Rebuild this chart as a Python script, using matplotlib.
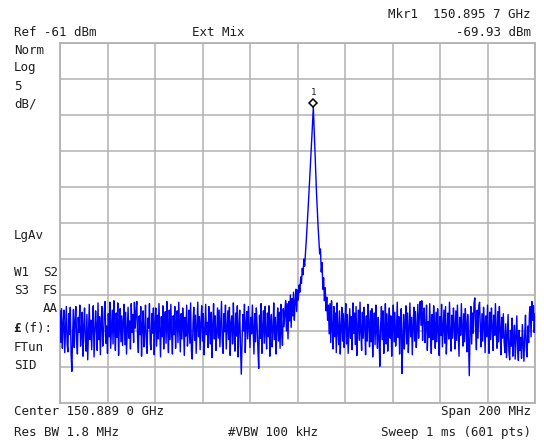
"""spectrum analyzer screen: single tone near 150.8957 GHz, ext mixer, 5 dB/div."""
import numpy as np
import matplotlib
matplotlib.use("Agg")
import matplotlib.pyplot as plt
from matplotlib.transforms import offset_copy

# instrument settings
CENTER_GHZ = 150.8890
SPAN_GHZ = 0.200
REF_DBM = -61.0
DB_PER_DIV = 5.0
N_DIV = 10
MKR_INDEX = 320

# trace, 601 pts, dBm
trace_dbm = [
    -98.2, -102.6, -97.9, -103.4, -100.0, -98.1, -104.0, -100.9, -97.6, -102.8, -103.9, -98.6, -101.5, -97.7, -104.3, -106.6, -101.2, -98.0, -103.3, -99.8,
    -97.6, -102.4, -104.2, -99.1, -101.2, -97.4, -103.1, -101.3, -98.4, -104.5, -100.4, -97.8, -102.3, -103.8, -98.7, -105.0, -101.0, -97.3, -102.2, -99.5,
    -103.6, -100.1, -97.5, -104.6, -101.5, -98.2, -100.5, -103.7, -97.1, -102.2, -99.0, -104.3, -100.0, -97.6, -103.1, -101.6, -98.3, -96.9, -102.7, -100.3,
    -104.1, -98.6, -101.8, -97.0, -103.4, -100.8, -98.1, -102.8, -96.8, -101.0, -103.7, -98.5, -101.9, -97.1, -104.4, -100.1, -97.9, -102.5, -98.9, -103.0,
    -99.8, -97.3, -102.9, -98.4, -104.2, -100.9, -97.7, -102.0, -99.6, -103.5, -97.2, -101.2, -98.7, -102.6, -97.0, -100.6, -98.4, -96.9, -101.9, -104.0,
    -98.9, -101.5, -97.6, -104.5, -100.2, -98.2, -103.2, -101.1, -97.4, -102.4, -104.1, -99.2, -100.6, -97.2, -102.8, -103.6, -98.6, -101.3, -97.8, -104.3,
    -100.0, -97.8, -103.1, -98.8, -102.1, -97.2, -100.9, -104.6, -99.0, -101.8, -97.5, -103.5, -99.9, -98.3, -102.7, -96.9, -100.8, -104.0, -98.1, -102.2,
    -97.3, -101.3, -104.2, -98.9, -101.5, -97.6, -103.4, -100.1, -98.2, -102.6, -97.0, -100.7, -103.9, -98.6, -102.1, -97.8, -100.2, -104.4, -99.1, -101.7,
    -97.4, -103.1, -100.9, -98.1, -102.7, -97.1, -103.8, -104.9, -100.0, -97.7, -102.3, -98.8, -104.1, -100.6, -97.0, -101.8, -99.0, -103.6, -99.9, -97.5,
    -102.4, -98.6, -104.3, -101.1, -97.3, -101.5, -99.8, -103.3, -97.6, -100.7, -102.8, -98.4, -104.7, -100.2, -97.2, -102.1, -98.9, -103.7, -101.2, -97.8,
    -102.0, -98.1, -103.2, -100.1, -96.9, -102.5, -104.1, -98.6, -101.1, -97.4, -103.5, -100.9, -98.2, -102.2, -97.7, -104.4, -99.9, -98.9, -102.8, -97.1,
    -101.2, -103.8, -98.5, -101.7, -97.5, -104.6, -100.6, -98.1, -103.1, -107.0, -102.4, -98.7, -101.0, -97.3, -104.0, -100.0, -98.3, -102.1, -97.6, -100.4,
    -103.3, -99.1, -101.4, -97.4, -100.9, -104.2, -98.6, -102.5, -97.8, -100.2, -103.6, -106.2, -98.8, -102.0, -97.2, -104.1, -100.7, -98.2, -102.7, -97.6,
    -101.2, -103.5, -98.5, -101.8, -97.5, -104.5, -99.9, -98.7, -103.2, -100.9, -97.1, -102.2, -99.1, -104.2, -100.4, -97.8, -102.4, -98.4, -103.4, -97.3,
    -101.2, -103.0, -97.9, -100.4, -98.2, -96.8, -101.0, -97.2, -102.1, -96.9, -99.6, -96.0, -100.5, -96.5, -98.9, -95.6, -99.5, -97.1, -95.2, -98.3,
    -95.3, -96.7, -94.6, -95.6, -93.5, -94.4, -92.3, -93.2, -91.0, -92.0, -90.4, -88.6, -86.7, -84.8, -82.8, -80.7, -78.6, -76.5, -74.3, -72.0,
    -69.93, -73.0, -76.0, -79.0, -81.8, -84.3, -86.5, -88.5, -90.3, -89.6, -92.8, -91.5, -95.2, -93.6, -96.8, -95.0, -98.2, -96.3, -99.5, -97.4,
    -101.4, -97.2, -102.6, -96.8, -100.6, -103.5, -97.6, -101.8, -98.5, -104.0, -97.1, -101.0, -102.9, -98.2, -104.2, -100.5, -97.7, -102.4, -98.6, -103.3,
    -100.0, -97.2, -102.8, -98.7, -104.1, -100.9, -97.9, -102.0, -99.0, -103.6, -97.1, -101.3, -98.5, -102.9, -97.6, -104.4, -100.6, -98.1, -102.3, -97.0,
    -101.1, -103.7, -98.4, -102.0, -97.7, -100.5, -104.3, -98.9, -102.4, -97.3, -100.0, -103.2, -98.2, -102.5, -97.9, -104.6, -100.8, -98.5, -102.9, -97.4,
    -101.0, -103.4, -99.1, -101.8, -105.9, -100.4, -97.6, -102.2, -98.2, -104.1, -100.9, -97.2, -102.8, -98.6, -103.8, -100.0, -97.8, -102.0, -98.9, -104.5,
    -100.5, -97.4, -102.5, -98.4, -103.1, -101.2, -97.0, -101.9, -99.0, -104.2, -100.7, -97.9, -106.9, -102.2, -98.7, -103.5, -100.0, -97.5, -102.8, -98.5,
    -104.0, -100.8, -97.1, -101.8, -99.1, -104.3, -100.3, -97.7, -102.4, -98.3, -103.3, -101.0, -97.3, -102.0, -98.8, -96.9, -100.2, -96.8, -102.3, -98.6,
    -97.8, -102.6, -100.5, -97.4, -103.7, -99.7, -101.9, -97.2, -101.2, -104.1, -98.7, -102.2, -97.5, -100.0, -103.4, -98.4, -102.5, -97.9, -100.8, -104.4,
    -99.0, -101.6, -97.3, -103.2, -100.7, -98.1, -102.7, -97.6, -104.2, -100.9, -98.5, -102.1, -97.0, -101.3, -103.8, -98.8, -102.0, -97.8, -100.3, -103.5,
    -98.2, -102.3, -97.4, -101.1, -104.5, -99.1, -101.6, -97.2, -100.6, -103.1, -98.6, -102.5, -97.9, -100.0, -103.9, -98.7, -102.1, -107.2, -100.9, -97.6,
    -102.8, -98.5, -101.3, -97.1, -96.4, -100.8, -103.6, -98.1, -102.0, -97.5, -97.0, -100.5, -103.2, -98.6, -102.4, -97.7, -100.0, -104.0, -98.9, -101.8,
    -97.4, -101.1, -104.1, -98.4, -102.2, -97.8, -100.3, -103.7, -98.8, -101.6, -97.2, -101.3, -103.4, -98.3, -102.5, -97.6, -100.7, -104.3, -99.1, -102.0,
    -98.6, -102.6, -104.0, -100.0, -104.7, -101.5, -98.7, -103.8, -105.0, -100.9, -103.1, -99.2, -104.5, -102.1, -100.2, -104.9, -101.7, -98.9, -103.4, -105.1,
    -100.9, -103.7, -101.9, -104.8, -100.1, -102.7, -105.2, -101.5, -98.8, -103.5, -104.6, -100.3, -102.6, -98.5, -97.6, -101.8, -96.9, -99.5, -97.5, -101.2,
    -98.6,
]

# screen annotations
top_left = "Ref -61 dBm"
top_mid = "Ext Mix"
mkr_freq = "Mkr1  150.895 7 GHz"
mkr_level = "-69.93 dBm"
left_col = [("Norm", 51), ("Log", 68), ("5", 86), ("dB/", 104),
            ("LgAv", 235), ("W1", 272), ("S3", 290), ("FTun", 347), ("SID", 365)]
left_col2 = [("S2", 272), ("FS", 290), ("AA", 309)]
bottom_rows = [
    ("Center 150.889 0 GHz", "Span 200 MHz", None, 411),
    ("Res BW 1.8 MHz", "Sweep 1 ms (601 pts)", "#VBW 100 kHz", 432),
]

W, H = 544, 444
TXT = "#1e1e1e"
GRID = "#b2b2b2"
FONT = "DejaVu Sans Mono"
FS = 9.0


def px(x, y):
    """pixel (from top-left) -> figure fraction."""
    return x / W, 1 - y / H


def main():
    trace = np.array(trace_dbm)
    freq = np.linspace(CENTER_GHZ - SPAN_GHZ / 2, CENTER_GHZ + SPAN_GHZ / 2, len(trace))
    bottom = REF_DBM - DB_PER_DIV * N_DIV

    fig = plt.figure(figsize=(W / 100, H / 100), dpi=100)
    fig.patch.set_facecolor("white")
    x0, y0 = px(60, 403)
    x1, y1 = px(535, 43)
    ax = fig.add_axes([x0, y0, x1 - x0, y1 - y0])

    ax.set_xlim(freq[0], freq[-1])
    ax.set_ylim(bottom, REF_DBM)
    ax.set_xticks(np.linspace(freq[0], freq[-1], N_DIV + 1))
    ax.set_yticks(np.linspace(bottom, REF_DBM, N_DIV + 1))
    ax.tick_params(length=0, labelbottom=False, labelleft=False)
    ax.grid(True, color=GRID, lw=1.1)
    for sp in ax.spines.values():
        sp.set_color(GRID)
        sp.set_linewidth(1.3)

    ax.plot(freq, trace, color="#0000ff", lw=1.0, zorder=3)

    # marker diamond a few points above the peak, "1" above it
    mk_tr = offset_copy(ax.transData, fig=fig, x=0, y=3.2, units="points")
    ax.plot(freq[MKR_INDEX], trace[MKR_INDEX], marker="D", ms=4.2, mfc="white",
            mec="black", mew=1.1, transform=mk_tr, zorder=5, clip_on=False)
    ax.annotate("1", (freq[MKR_INDEX], trace[MKR_INDEX]), xytext=(0, 11),
                textcoords="offset points", ha="center", va="center",
                fontsize=6.5, family=FONT, color=TXT)

    kw = dict(family=FONT, fontsize=FS, color=TXT, va="center")
    fig.text(*px(14, 33), top_left, ha="left", **kw)
    fig.text(*px(192, 33), top_mid, ha="left", **kw)
    fig.text(*px(531, 14), mkr_freq, ha="right", **kw)
    fig.text(*px(531, 32), mkr_level, ha="right", **kw)
    for s, y in left_col:
        fig.text(*px(14, y), s, ha="left", **kw)
    for s, y in left_col2:
        fig.text(*px(58, y), s, ha="right", **kw)
    fig.text(*px(13, 328), "\u00a3", ha="left", fontweight="bold", **kw)
    fig.text(*px(22, 328), "(f):", ha="left", **kw)
    for left, right, mid, y in bottom_rows:
        fig.text(*px(14, y), left, ha="left", **kw)
        fig.text(*px(531, y), right, ha="right", **kw)
        if mid:
            fig.text(*px(228, y), mid, ha="left", **kw)

    fig.savefig("out.png", dpi=100, facecolor="white")
    plt.close(fig)


if __name__ == "__main__":
    main()
